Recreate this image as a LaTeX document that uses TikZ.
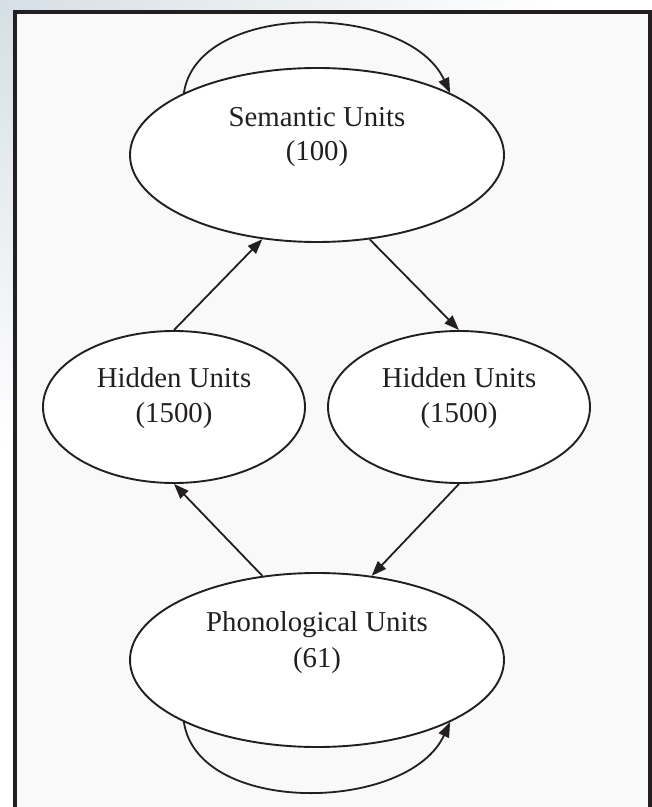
\documentclass[tikz,border=0pt]{standalone}
\usepackage{fontspec}
\setmainfont{Liberation Serif}
\usetikzlibrary{shapes.geometric,arrows.meta}
\definecolor{bgtint}{HTML}{D6DFE5}
\definecolor{panel}{HTML}{F9F9F9}
\definecolor{ink}{HTML}{231F20}
\begin{document}
\begin{tikzpicture}[x=0.5pt,y=-0.5pt,
  unit/.style={ellipse,draw=ink,fill=white,line width=0.95pt,inner sep=0pt},
  big/.style={unit,minimum width=187pt,minimum height=87pt},
  small/.style={unit,minimum width=131pt,minimum height=76pt},
  lbl/.style={anchor=base,inner sep=0pt,text=ink,font=\fontsize{14.4}{17}\selectfont},
  edge/.style={draw=ink,line width=0.9pt,-{Triangle[length=7.5pt,width=5.5pt]}},
]
\useasboundingbox (0,0) rectangle (652,807);
\fill[white] (0,0) rectangle (652,807);
\shade[top color=bgtint,bottom color=white] (0,0) rectangle (15,450);
\shade[left color=bgtint,right color=white] (0,0) rectangle (560,12);
\draw[line width=1.7pt,draw=ink,fill=panel] (15,12) rectangle (650,830);

\node[big] (sem) at (317,155) {};
\node[small] (hl) at (174,407) {};
\node[small] (hr) at (459,407) {};
\node[big] (pho) at (317,660) {};

\node[lbl] (semA) at (317,127) {Semantic Units};
\node[lbl] (semB) at (317,161) {(100)};
\node[lbl] (hlA) at (174,387) {Hidden Units};
\node[lbl] (hlB) at (174,422) {(1500)};
\node[lbl] (hrA) at (459,387) {Hidden Units};
\node[lbl] (hrB) at (459,422) {(1500)};
\node[lbl] (phoA) at (317,631) {Phonological Units};
\node[lbl] (phoB) at (317,667) {(61)};

\draw[edge] (hl.north) -- (sem.237);
\draw[edge] (sem.302) -- (hr.north);
\draw[edge] (pho.123) -- (hl.south);
\draw[edge] (hr.south) -- (pho.57);
\draw[edge] (sem.155) .. controls (198,0) and (408,2) .. (sem.25);
\draw[edge] (pho.205) .. controls (198,816) and (408,813) .. (pho.335);
\end{tikzpicture}
\end{document}
